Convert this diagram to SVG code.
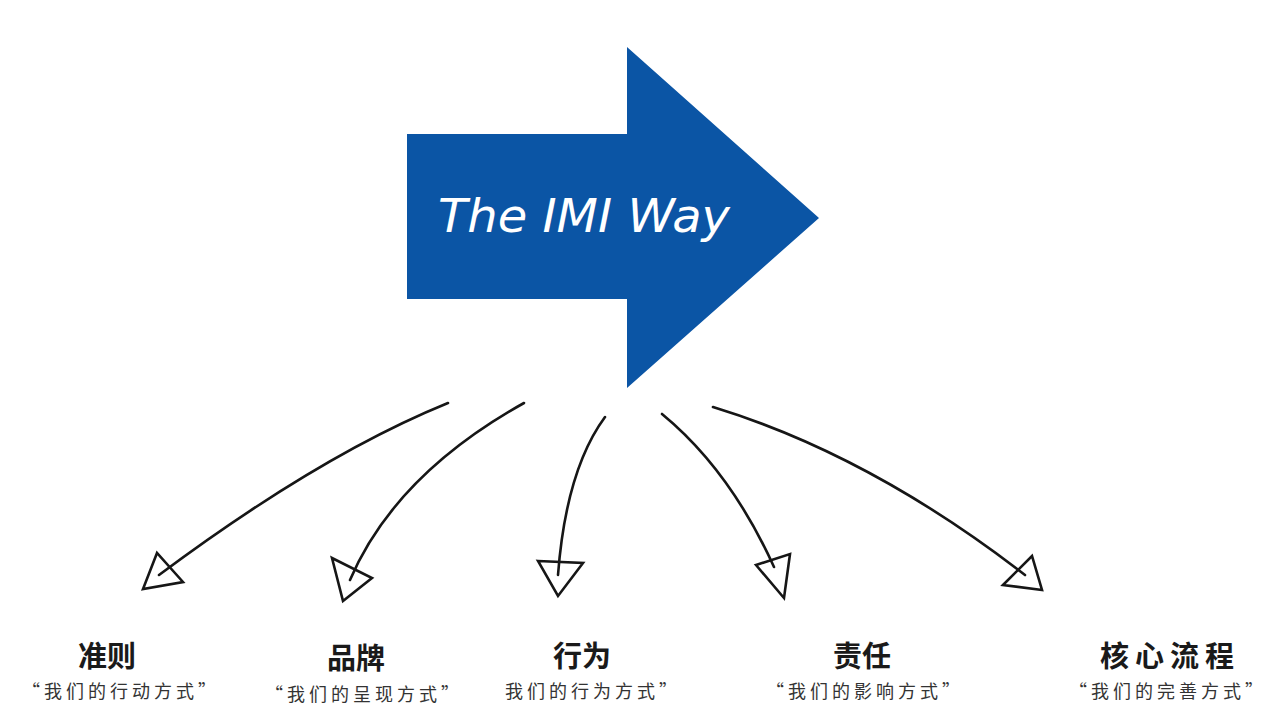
<svg xmlns="http://www.w3.org/2000/svg" width="1280" height="713" viewBox="0 0 1280 713">
<style>
.conn{fill:none;stroke:#161616;stroke-width:2.6;stroke-linecap:round}
.head{fill:none;stroke:#161616;stroke-width:2.6;stroke-linejoin:miter}
.title{font-family:"Noto Sans CJK SC","Noto Sans CJK JP",sans-serif;font-size:29px;font-weight:700;fill:#1a1a1a;text-anchor:middle}
.sub{font-family:"Noto Sans CJK SC","Noto Sans CJK JP",sans-serif;font-size:18px;fill:#333;text-anchor:middle;letter-spacing:4px}
</style>
<rect width="1280" height="713" fill="#ffffff"/>
<g id="main-arrow">
<polygon points="407,134 627,134 627,47 819,218 627,388 627,299 407,299" fill="#0b55a5"/>
<text x="438" y="232" font-family="'DejaVu Sans',sans-serif" font-style="italic" font-size="46" fill="#ffffff" textLength="292" lengthAdjust="spacingAndGlyphs">The IMI Way</text>
</g>
<g id="connectors">
<path class="conn" d="M448,403 Q320,455 159,575"/>
<polygon class="head" points="157,553 143,589 183,582"/>
<path class="conn" d="M524,403 Q395,475 350,580"/>
<polygon class="head" points="332,558 343,601 372,578"/>
<path class="conn" d="M605,417 Q566,470 558,575"/>
<polygon class="head" points="538,561 583,563 558,596"/>
<path class="conn" d="M662,414 Q730,470 774,567"/>
<polygon class="head" points="756,565 790,554 784,598"/>
<path class="conn" d="M713,407 Q870,455 1025,575"/>
<polygon class="head" points="1003,585 1032,556 1042,590"/>
</g>
<g id="node-zhunze">
<text class="title" x="107" y="667">准则</text>
<text class="sub" x="121" y="698">“我们的行动方式”</text>
</g>
<g id="node-pinpai">
<text class="title" x="356" y="669">品牌</text>
<text class="sub" x="364" y="701">“我们的呈现方式”</text>
</g>
<g id="node-xingwei">
<text class="title" x="582" y="667">行为</text>
<text class="sub" x="593" y="698">我们的行为方式”</text>
</g>
<g id="node-zeren">
<text class="title" x="862" y="667">责任</text>
<text class="sub" x="865" y="698">“我们的影响方式”</text>
</g>
<g id="node-hexin">
<text class="title" x="1170" y="667" style="letter-spacing:6px">核心流程</text>
<text class="sub" x="1168" y="698">“我们的完善方式”</text>
</g>
</svg>
